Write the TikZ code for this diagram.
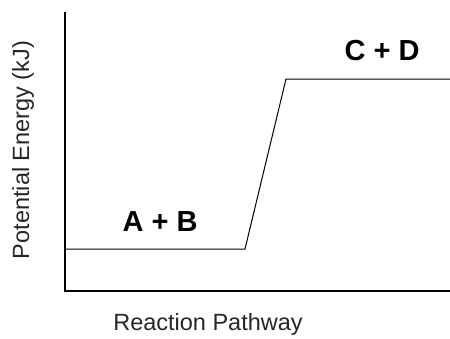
\documentclass[tikz,border=0pt]{standalone}
\usepackage{fontspec}
\setmainfont{Liberation Sans}
\begin{document}
\begin{tikzpicture}[x=1pt,y=-1pt,
  axis/.style={line width=1.3pt,black},
  curve/.style={line width=1pt,black},
  species/.style={font=\fontsize{29}{31}\selectfont\bfseries, inner sep=0pt},
  axlabel/.style={font=\fontsize{23.5}{26}\selectfont, inner sep=0pt, text=black!85}]
\useasboundingbox (0,0) rectangle (450,338);
\coordinate (top) at (65,12);
\coordinate (origin) at (65,291);
\coordinate (xend) at (450,291);
\coordinate (r0) at (65,249);
\coordinate (r1) at (245,249);
\coordinate (p0) at (286,79);
\coordinate (p1) at (450,79);
\draw[axis] (top) -- (origin) -- (xend);
\draw[curve] (r0) -- (r1) -- (p0) -- (p1);
\node[species] (ab) at (160,222) {A + B};
\node[species] (cd) at (382,51) {C + D};
\node[axlabel] (xl) at (208,324) {Reaction Pathway};
\node[axlabel, rotate=90] (yl) at (23,150) {Potential Energy (kJ)};
\end{tikzpicture}
\end{document}
